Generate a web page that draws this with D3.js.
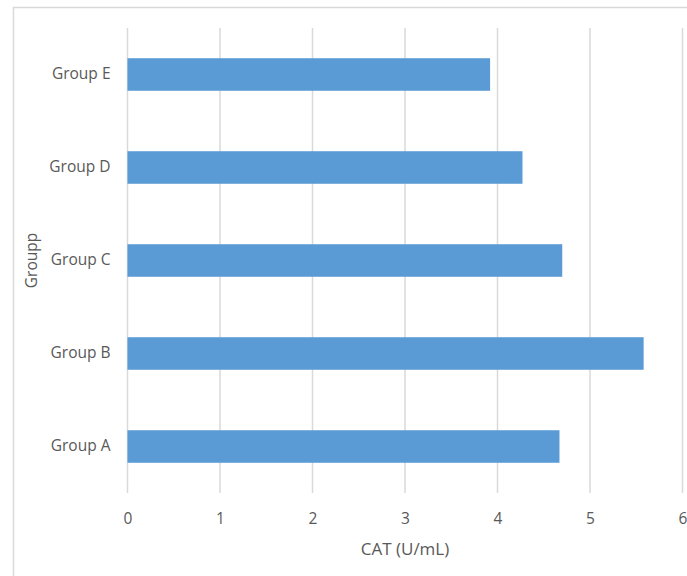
<!DOCTYPE html>
<html><head><meta charset="utf-8">
<script src="https://cdn.jsdelivr.net/npm/d3@7"></script>
<style>body{margin:0;background:#fff}svg{display:block}</style>
</head><body>
<script>
const categories = ["Group A","Group B","Group C","Group D","Group E"];
const values = [4.67, 5.58, 4.70, 4.27, 3.92];
const xTicks = [0,1,2,3,4,5,6];
const xTitle = "CAT (U/mL)";
const yTitle = "Groupp";

const W = 687, H = 576;
const m = {left:127.5, right:4.5, top:28, bottom:83};
const svg = d3.select("body").append("svg").attr("width",W).attr("height",H);
svg.append("rect").attr("x",13.5).attr("y",7.5).attr("width",W).attr("height",H)
  .attr("fill","#fff").attr("stroke","#d9d9d9").attr("stroke-width",1.5);

const x = d3.scaleLinear().domain([0,6]).range([m.left, W-m.right]);
const y = d3.scaleBand().domain(categories.slice().reverse()).range([m.top, H-m.bottom]).paddingInner(0.65).paddingOuter(0.325);

const font = "'Open Sans', sans-serif";
svg.append("g").selectAll("line").data(xTicks).join("line")
  .attr("x1",d=>x(d)).attr("x2",d=>x(d)).attr("y1",m.top).attr("y2",H-m.bottom)
  .attr("stroke","#d9d9d9").attr("stroke-width",1.5);

svg.append("g").selectAll("rect").data(categories).join("rect")
  .attr("x",x(0)).attr("y",d=>y(d)).attr("height",y.bandwidth())
  .attr("width",(d,i)=>x(values[i])-x(0)).attr("fill","#5b9bd5");

const xa = svg.append("g").attr("transform",`translate(0,${H-m.bottom})`)
  .call(d3.axisBottom(x).tickValues(xTicks).tickFormat(d3.format("d")).tickSize(0).tickPadding(20));
xa.select(".domain").remove();
xa.selectAll("text").attr("fill","#595959").style("font-family",font).style("font-size","15.5px");

const ya = svg.append("g").attr("transform",`translate(${m.left},0)`)
  .call(d3.axisLeft(y).tickSize(0).tickPadding(17));
ya.select(".domain").remove();
ya.selectAll("text").attr("fill","#595959").style("font-family",font).style("font-size","15.5px");

svg.append("text").attr("x",(x(0)+x(6))/2).attr("y",555).attr("text-anchor","middle")
  .attr("fill","#595959").style("font-family",font).style("font-size","17px").text(xTitle);
svg.append("text").attr("transform",`translate(37,${(m.top+H-m.bottom)/2}) rotate(-90)`)
  .attr("text-anchor","middle").attr("fill","#595959").style("font-family",font).style("font-size","15.5px").text(yTitle);
</script>
</body></html>
